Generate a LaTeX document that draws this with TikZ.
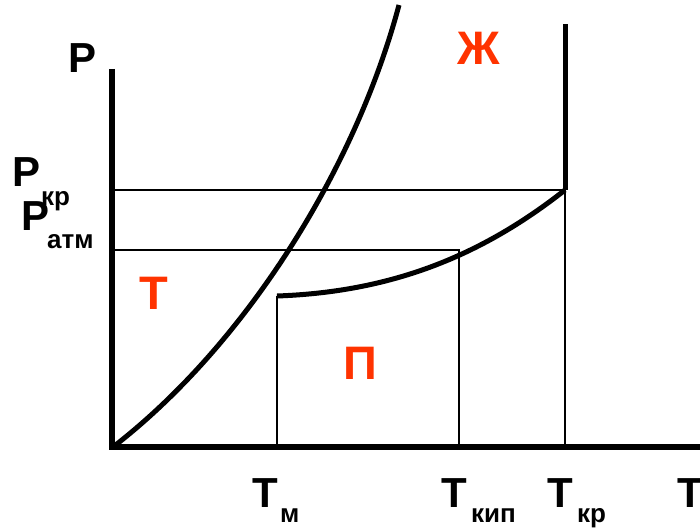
\documentclass[tikz,border=0pt]{standalone}
\usepackage{fontspec}
\setmainfont{Liberation Sans}
\definecolor{phasered}{HTML}{FF3300}
\tikzset{
  axisline/.style={line width=6.5pt},
  curveline/.style={line width=5pt},
  guideline/.style={line width=1.3pt},
  biglbl/.style={inner sep=0pt, anchor=base west, font=\fontsize{42}{42}\selectfont\bfseries},
  sublbl/.style={inner sep=0pt, anchor=base west, font=\fontsize{26}{26}\selectfont\bfseries},
  phaselbl/.style={inner sep=0pt, anchor=base west, text=phasered, font=\fontsize{47}{47}\selectfont\bfseries}
}
\begin{document}
\begin{tikzpicture}[x=1pt,y=-1pt]
\useasboundingbox (0,0) rectangle (700,529);
\clip (0,0) rectangle (700,529);
% key points
\coordinate (O) at (113,447);
\coordinate (Ytop) at (112,69);
\coordinate (Xend) at (705,447);
\coordinate (Mtop) at (399,5);
\coordinate (Tr) at (277,296);
\coordinate (Cr) at (565,190);
\coordinate (CrTop) at (565,24);
\coordinate (Kip) at (459,250);
% guide lines
\draw[guideline] (112,190) -- (Cr) -- (565,447);
\draw[guideline] (112,250) -- (Kip) -- (459,447);
\draw[guideline] (Tr) -- (277,447);
% axes
\draw[axisline] (Ytop) -- (112,450);
\draw[axisline] (109,447) -- (Xend);
% melting curve
\draw[curveline] (O) .. controls (245,345) and (355,170) .. (Mtop);
% vaporization curve
\draw[curveline] (Tr) .. controls (390,292) and (480,257) .. (Cr);
\draw[curveline] (Cr) -- (CrTop);
% labels
\node[biglbl] (lP) at (68,73) {P};
\node[biglbl] (lPkr) at (12,187) {P};
\node[sublbl] (lkr) at (41,205) {кр};
\node[biglbl] (lPatm) at (21,230) {P};
\node[sublbl] (latm) at (47,248) {атм};
\node[biglbl] (lTm) at (252,507) {T};
\node[sublbl] (lm) at (280,522) {м};
\node[biglbl] (lTkip) at (441,507) {T};
\node[sublbl] (lkip) at (471,522) {кип};
\node[biglbl] (lTkr) at (547,507) {T};
\node[sublbl] (lkr2) at (577,522) {кр};
\node[biglbl] (lT) at (677,507) {T};
\node[phaselbl] (zh) at (457,65) {Ж};
\node[phaselbl] (tv) at (139,309) {Т};
\node[phaselbl] (pa) at (343,379) {П};
\end{tikzpicture}
\end{document}
